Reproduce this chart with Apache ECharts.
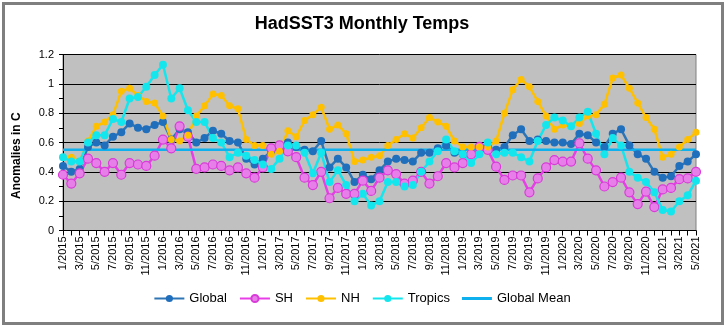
<!DOCTYPE html>
<html>
<head>
<meta charset="utf-8">
<script src="https://cdn.jsdelivr.net/npm/echarts@6/dist/echarts.min.js"></script>
<style>
html,body{margin:0;padding:0;background:#fff;}
#c{width:724px;height:327px;}
</style>
</head>
<body>
<div id="c"></div>
<script>
const categories = [
"1/2015","2/2015","3/2015","4/2015","5/2015","6/2015","7/2015","8/2015","9/2015","10/2015","11/2015","12/2015",
"1/2016","2/2016","3/2016","4/2016","5/2016","6/2016","7/2016","8/2016","9/2016","10/2016","11/2016","12/2016",
"1/2017","2/2017","3/2017","4/2017","5/2017","6/2017","7/2017","8/2017","9/2017","10/2017","11/2017","12/2017",
"1/2018","2/2018","3/2018","4/2018","5/2018","6/2018","7/2018","8/2018","9/2018","10/2018","11/2018","12/2018",
"1/2019","2/2019","3/2019","4/2019","5/2019","6/2019","7/2019","8/2019","9/2019","10/2019","11/2019","12/2019",
"1/2020","2/2020","3/2020","4/2020","5/2020","6/2020","7/2020","8/2020","9/2020","10/2020","11/2020","12/2020",
"1/2021","2/2021","3/2021","4/2021","5/2021"];

const globalVals = [0.44,0.40,0.42,0.57,0.60,0.58,0.64,0.67,0.73,0.70,0.69,0.72,
0.74,0.62,0.69,0.67,0.60,0.63,0.68,0.66,0.61,0.60,0.49,0.45,
0.49,0.54,0.56,0.60,0.57,0.55,0.54,0.61,0.43,0.49,0.43,0.33,
0.38,0.35,0.41,0.47,0.49,0.48,0.47,0.53,0.53,0.56,0.58,0.53,
0.52,0.52,0.57,0.57,0.55,0.57,0.65,0.69,0.61,0.62,0.61,0.60,
0.60,0.59,0.66,0.65,0.60,0.57,0.66,0.69,0.58,0.52,0.49,0.40,
0.36,0.37,0.44,0.47,0.52];

const shVals = [0.38,0.32,0.39,0.49,0.46,0.40,0.46,0.38,0.46,0.45,0.44,0.51,
0.62,0.56,0.71,0.64,0.42,0.43,0.45,0.44,0.41,0.43,0.39,0.36,
0.43,0.56,0.58,0.54,0.50,0.36,0.31,0.40,0.22,0.29,0.25,0.25,
0.34,0.27,0.36,0.41,0.385,0.32,0.34,0.40,0.32,0.37,0.46,0.43,
0.46,0.52,0.57,0.55,0.435,0.345,0.375,0.375,0.26,0.355,0.43,0.48,
0.47,0.47,0.595,0.49,0.41,0.30,0.33,0.36,0.26,0.18,0.265,0.16,
0.28,0.29,0.35,0.355,0.40];

const nhVals = [0.50,0.50,0.47,0.61,0.71,0.74,0.79,0.95,0.97,0.92,0.88,0.87,
0.78,0.62,0.61,0.65,0.78,0.85,0.93,0.92,0.85,0.83,0.62,0.58,
0.58,0.52,0.54,0.68,0.64,0.75,0.79,0.84,0.69,0.72,0.66,0.47,
0.48,0.50,0.51,0.58,0.62,0.66,0.63,0.70,0.77,0.74,0.71,0.61,
0.57,0.57,0.57,0.57,0.61,0.80,0.96,1.03,0.98,0.88,0.78,0.69,
0.72,0.71,0.73,0.78,0.79,0.86,1.04,1.06,0.97,0.87,0.77,0.69,
0.50,0.52,0.57,0.62,0.67];

const tropicsVals = [0.50,0.47,0.47,0.60,0.65,0.65,0.76,0.74,0.90,0.91,0.98,1.06,
1.13,0.90,0.97,0.82,0.74,0.74,0.63,0.60,0.50,0.53,0.51,0.48,
0.45,0.42,0.49,0.58,0.58,0.53,0.39,0.53,0.33,0.41,0.31,0.20,
0.25,0.17,0.20,0.33,0.33,0.30,0.31,0.40,0.47,0.54,0.62,0.54,
0.52,0.46,0.52,0.60,0.52,0.53,0.53,0.50,0.47,0.61,0.72,0.77,
0.75,0.71,0.77,0.81,0.66,0.52,0.63,0.58,0.40,0.36,0.33,0.26,
0.14,0.13,0.20,0.24,0.34];

const GLOBAL_MEAN = 0.55;
const yTicks = [0, 0.2, 0.4, 0.6, 0.8, 1, 1.2];

const FONT = '"Liberation Sans", Arial, sans-serif';
const chart = echarts.init(document.getElementById('c'), null, {renderer: 'canvas'});

function lineSeries(name, data, color, symbolColor, size, borderColor) {
  return {
    name: name, type: 'line', data: data,
    symbol: 'circle', symbolSize: size, showAllSymbol: true,
    lineStyle: {color: color, width: 2.5},
    itemStyle: {color: symbolColor, borderColor: borderColor || symbolColor, borderWidth: borderColor ? 1.2 : 0},
    emphasis: {disabled: true},
    animation: false
  };
}

chart.setOption({
  animation: false,
  backgroundColor: '#ffffff',
  title: {
    text: 'HadSST3 Monthly Temps', left: 'center', top: 10,
    textStyle: {fontFamily: FONT, fontSize: 18, fontWeight: 'bold', color: '#000'}
  },
  graphic: [{
    type: 'rect', left: 1, top: 1, silent: true,
    shape: {x: 0, y: 0, width: 719, height: 320},
    style: {fill: 'none', stroke: '#7f7f7f', lineWidth: 3}
  }, {
    type: 'text', silent: true,
    rotation: Math.PI / 2,
    style: {text: 'Anomalies in C', fontFamily: FONT, fontSize: 12, fontWeight: 'bold', fill: '#000'},
    x: 11, y: 199
  }],
  legend: {
    bottom: 17, left: 'center',
    itemWidth: 30, itemHeight: 9, itemGap: 12,
    textStyle: {fontFamily: FONT, fontSize: 13, color: '#000'},
    data: ['Global', 'SH', 'NH', 'Tropics',
      {name: 'Global Mean', icon: 'path://M0,0 H30 V3 H0 Z'}]
  },
  grid: {
    left: 63, right: 28, top: 54.5, bottom: 96.5,
    show: true, backgroundColor: '#c0c0c0', borderColor: '#808080', borderWidth: 1
  },
  xAxis: {
    type: 'category', data: categories, boundaryGap: false,
    axisLine: {lineStyle: {color: '#000', width: 1}},
    axisTick: {show: true, interval: 0, length: 5, lineStyle: {color: '#000'}},
    axisLabel: {interval: 1, rotate: 90, fontFamily: FONT, fontSize: 11, color: '#000', margin: 6},
    splitLine: {show: false}
  },
  yAxis: {
    type: 'value', min: yTicks[0], max: yTicks[yTicks.length - 1], interval: 0.2,
    axisLine: {show: true, lineStyle: {color: '#000', width: 1}},
    axisTick: {show: true, length: 4, lineStyle: {color: '#000'}},
    minorTick: {show: true, splitNumber: 2, length: 4, lineStyle: {color: '#000'}},
    axisLabel: {fontFamily: FONT, fontSize: 11, color: '#000', margin: 9},
    splitLine: {show: true, lineStyle: {color: '#000', width: 1}}
  },
  series: [
    lineSeries('Global', globalVals, '#2e75b6', '#1f6fbd', 8),
    lineSeries('SH', shVals, '#e83ee8', '#e77fe8', 9, '#d93ad9'),
    lineSeries('NH', nhVals, '#ffc000', '#ffc000', 7),
    lineSeries('Tropics', tropicsVals, '#14e6ee', '#14e6ee', 8),
    {
      name: 'Global Mean', type: 'line', symbol: 'none',
      data: categories.map(() => GLOBAL_MEAN),
      lineStyle: {color: '#0fb0ee', width: 2.5},
      itemStyle: {color: '#0fb0ee'},
      emphasis: {disabled: true}
    }
  ]
});
</script>
</body>
</html>
